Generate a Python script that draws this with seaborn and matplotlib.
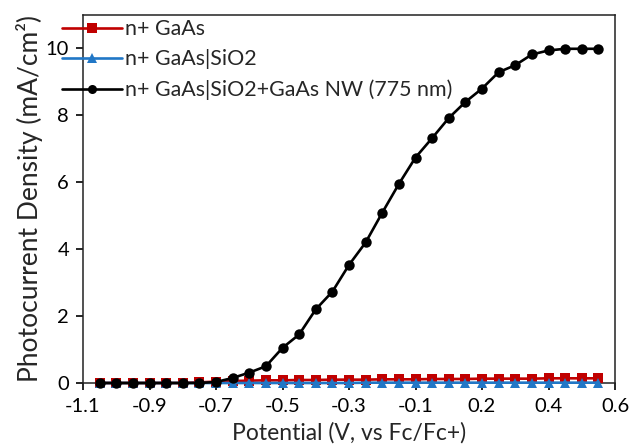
import numpy as np
import pandas as pd
import matplotlib
matplotlib.use("Agg")
import matplotlib.pyplot as plt
import seaborn as sns

# ---- data ----
potential = [-1.05, -1.00, -0.95, -0.90, -0.85, -0.80, -0.75, -0.70, -0.65, -0.60,
             -0.55, -0.50, -0.45, -0.40, -0.35, -0.30, -0.25, -0.20, -0.15, -0.10,
             -0.05, 0.00, 0.05, 0.10, 0.15, 0.20, 0.25, 0.30, 0.35, 0.40, 0.45]
gaas = [0.00, 0.00, 0.00, 0.00, 0.00, 0.00, 0.02, 0.04, 0.06, 0.07,
        0.08, 0.08, 0.09, 0.09, 0.10, 0.10, 0.10, 0.11, 0.11, 0.11,
        0.12, 0.12, 0.12, 0.13, 0.13, 0.13, 0.13, 0.14, 0.14, 0.14, 0.14]
gaas_sio2 = [0.00, 0.00, 0.00, 0.00, 0.00, 0.00, 0.00, 0.00, 0.00, 0.00,
             0.00, 0.00, 0.00, 0.00, 0.00, 0.00, 0.01, 0.01, 0.01, 0.01,
             0.01, 0.01, 0.01, 0.01, 0.01, 0.01, 0.01, 0.01, 0.01, 0.01, 0.01]
gaas_nw = [0.00, 0.00, 0.00, 0.00, 0.00, 0.00, 0.00, 0.03, 0.15, 0.31,
           0.50, 1.05, 1.45, 2.20, 2.73, 3.53, 4.20, 5.09, 5.95, 6.74,
           7.32, 7.92, 8.40, 8.80, 9.29, 9.50, 9.82, 9.94, 9.99, 9.99, 9.99]
series_names = ["n+ GaAs", "n+ GaAs|SiO2", "n+ GaAs|SiO2+GaAs NW (775 nm)"]
colors = ["#C00000", "#2177C6", "#000000"]
markers = ["s", "^", "o"]
xtick_pos = [-1.1, -0.9, -0.7, -0.5, -0.3, -0.1, 0.1, 0.3, 0.5]
xtick_labels = ["-1.1", "-0.9", "-0.7", "-0.5", "-0.3", "-0.1", "0.2", "0.4", "0.6"]
ytick_pos = [0, 2, 4, 6, 8, 10]

df = pd.concat([
    pd.DataFrame({"Potential": potential, "J": vals, "Sample": name})
    for name, vals in zip(series_names, [gaas, gaas_sio2, gaas_nw])
], ignore_index=True)

sns.set_theme(style="ticks")
plt.rcParams["font.family"] = ["Lato", "DejaVu Sans"]

fig = plt.figure(figsize=(6.33, 4.47), dpi=100)
ax = fig.add_axes([83 / 633, 1 - 383 / 447, (615 - 83) / 633, (383 - 15) / 447])

sns.lineplot(data=df, x="Potential", y="J", hue="Sample", style="Sample",
             hue_order=series_names, style_order=series_names,
             palette=dict(zip(series_names, colors)),
             markers=dict(zip(series_names, markers)), dashes=False,
             linewidth=1.9, markersize=7, markeredgewidth=0, ax=ax)

# marker sizes per series; markers at zero drawn fully (not clipped)
for line, ms, z in zip(ax.get_lines()[:3], [7.0, 7.5, 7.5], [3, 4, 5]):
    line.set_markersize(ms)
    line.set_clip_on(False)
    line.set_zorder(z)

ax.set_xlim(-1.1, 0.5)
ax.set_ylim(0, 11)
ax.set_xticks(xtick_pos)
ax.set_xticklabels(xtick_labels)
ax.set_yticks(ytick_pos)
ax.tick_params(axis="both", direction="out", length=5, width=1.2, labelsize=14.5,
               colors="black")
ax.tick_params(axis="x", pad=6)
ax.tick_params(axis="y", pad=5)
for side in ["left", "bottom", "top", "right"]:
    ax.spines[side].set_visible(True)
    ax.spines[side].set_linewidth(1.1)
    ax.spines[side].set_color("#222222")

ax.set_xlabel("Potential (V, vs Fc/Fc+)", fontsize=16.5, labelpad=5)
ax.set_ylabel("Photocurrent Density (mA/cm²)", fontsize=19, labelpad=2)

handles, labels = ax.get_legend_handles_labels()
for h in handles:
    h.set_markersize(6.5)
ax.legend_.remove()
fig.legend(handles, labels, loc="upper left",
           bbox_to_anchor=(62 / 633, 1 - 19 / 447), frameon=False,
           borderpad=0, borderaxespad=0, handlelength=2.8, handletextpad=0.15,
           labelspacing=0.48, fontsize=15.4)

fig.savefig("out.png", dpi=100)
